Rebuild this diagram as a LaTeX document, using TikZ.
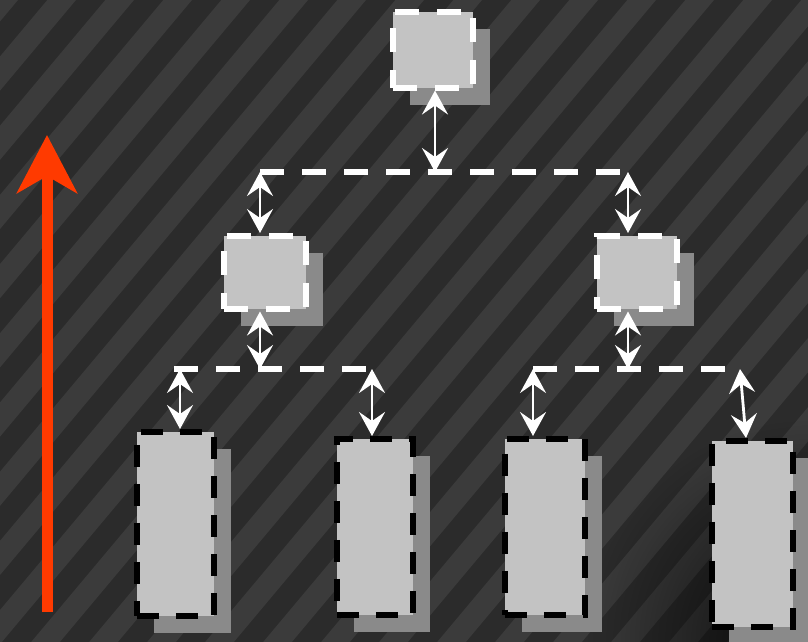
\documentclass[tikz,border=0pt]{standalone}
\usetikzlibrary{arrows.meta,shadows,fadings,calc}
\definecolor{bgdark}{HTML}{2B2B2B}
\definecolor{bglight}{HTML}{3B3B3B}
\definecolor{boxfill}{HTML}{C3C3C3}
\definecolor{shadowc}{HTML}{8A8A8A}
\definecolor{redarrow}{HTML}{FF3A00}
\tikzfading[name=vigfade, inner color=transparent!0, outer color=transparent!100]
\begin{document}
\begin{tikzpicture}[x=1pt,y=-1pt,
  box/.style={rectangle, inner sep=0pt, fill=boxfill, line width=5.5pt, anchor=north west,
    drop shadow={shadow xshift=17pt, shadow yshift=-17pt, fill=shadowc, opacity=1}},
  whitebox/.style={box, draw=white, dash pattern=on 24pt off 18pt},
  blackbox/.style={box, draw=black, dash pattern=on 22pt off 17pt},
  hline/.style={white, line width=6pt, dash pattern=on 24pt off 18pt},
  dbl/.style={white, line width=2.8pt, {Stealth[length=24pt,width=26pt,inset=9pt]}-{Stealth[length=24pt,width=26pt,inset=9pt]}},
  stripe/.style={bglight, line width=22pt}]
\useasboundingbox (0,0) rectangle (808,641);
% background
\fill[bgdark] (-10,-10) rectangle (818,651);
\begin{scope}
\clip (-10,-10) rectangle (818,651);
\foreach \i in {-650,-592,...,900} \draw[stripe] ({\i-60},{641+72}) -- ({\i+538+60},-72);
\fill[black, opacity=0.8, path fading=vigfade] (808,641) circle (220);
\end{scope}
% nodes
\node[whitebox, minimum width=80pt, minimum height=76pt] (T) at (390,9) {};
\node[whitebox, minimum width=82pt, minimum height=73pt] (ML) at (221,233) {};
\node[whitebox, minimum width=80pt, minimum height=73pt] (MR) at (594,233) {};
\node[blackbox, minimum width=77pt, minimum height=184pt] (B1) at (134,429) {};
\node[blackbox, minimum width=76pt, minimum height=176pt] (B2) at (334,436) {};
\node[blackbox, minimum width=80pt, minimum height=176pt] (B3) at (502,436) {};
\node[blackbox, minimum width=81pt, minimum height=186pt] (B4) at (709,438) {};
% bus coordinates
\coordinate (h1a) at (260,172);
\coordinate (h1m) at (435,172);
\coordinate (h1b) at (628,172);
\coordinate (h2a) at (180,369);
\coordinate (h2m) at (260,369);
\coordinate (h2b) at (372,369);
\coordinate (h3a) at (533,369);
\coordinate (h3m) at (628,369);
\coordinate (h3b) at (740,369);
\draw[hline] (h1a) -- (h1b);
\draw[hline] ($(h2a)+(-6,0)$) -- (h2b);
\draw[hline] (h3a) -- (h3b);
% arrows
\draw[dbl] (T.south -| h1m) -- (h1m);
\draw[dbl] (h1a) -- (ML.north -| h1a);
\draw[dbl] (h1b) -- (MR.north -| h1b);
\draw[dbl] (ML.south -| h2m) -- (h2m);
\draw[dbl] (MR.south -| h3m) -- (h3m);
\draw[dbl] (h2a) -- (B1.north -| h2a);
\draw[dbl] (h2b) -- (B2.north -| h2b);
\draw[dbl] (h3a) -- (B3.north -| h3a);
\draw[dbl] (h3b) -- ($(B4.north west)+(37,0)$);
% red arrow
\coordinate (r0) at (47,612);
\coordinate (r1) at (47,135);
\draw[redarrow, line width=11pt, -{Stealth[length=58pt,width=60pt,inset=17pt]}] (r0) -- (r1);
\end{tikzpicture}
\end{document}
